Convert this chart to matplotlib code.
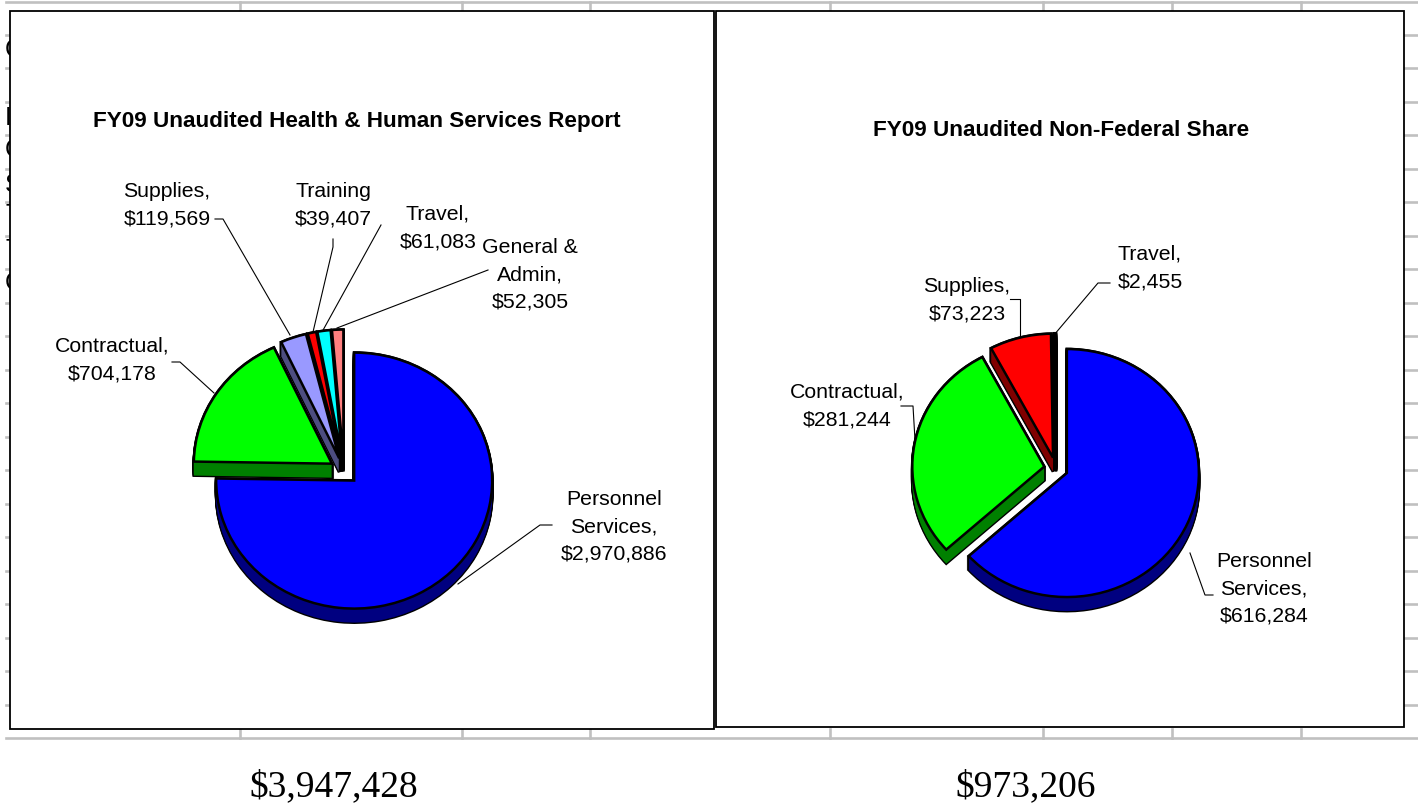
import matplotlib
matplotlib.use('Agg')
import matplotlib.pyplot as plt

# Left chart
hhs_names = ['Personnel\nServices,', 'Contractual,', 'Supplies,', 'Training', 'Travel,', 'General &\nAdmin,']
hhs_values = [2970886, 704178, 119569, 39407, 61083, 52305]
hhs_total = '$3,947,428'
hhs_title = 'FY09 Unaudited Health & Human Services Report'

# Right chart
nfs_names = ['Personnel\nServices,', 'Contractual,', 'Supplies,', 'Travel,']
nfs_values = [616284, 281244, 73223, 2455]
nfs_total = '$973,206'
nfs_title = 'FY09 Unaudited Non-Federal Share'

# Letters of the worksheet showing at the left of the chart
sheet_letters = ['C', 'I', 'C', 'S', 'T', 'T', 'C']

W, H = 1418, 808
GRAY = '#C0C0C0'

hhs_top = ['#0000FF', '#00FF00', '#9999FF', '#FF0000', '#00FFFF', '#FF8080']
hhs_side = ['#000080', '#008000', '#4D4D80', 'black', 'black', 'black']
nfs_top = ['#0000FF', '#00FF00', '#FF0000', 'black']
nfs_side = ['#000080', '#008000', '#800000', 'black']

# text centres in pixels
hhs_label_pos = [(614, 527), (112, 360), (167, 205), (333, 205), (438, 228), (530, 275)]
nfs_label_pos = [(1264, 589), (847, 406), (967, 300), (1150, 268)]

hhs_leaders = [
    [(552, 525), (540, 525), (458, 584)],
    [(172, 362), (180, 362), (214, 393)],
    [(215, 219), (223, 219), (290, 335)],
    [(333, 239), (333, 247), (313, 332)],
    [(381, 225), (322, 332)],
    [(488, 270), (337, 328)],
]
nfs_leaders = [
    [(1213, 595), (1205, 595), (1190, 553)],
    [(901, 406), (913, 406), (915, 440)],
    [(1010, 299), (1020, 299), (1020, 338)],
    [(1110, 283), (1098, 283), (1054, 335)],
]


def label_text(name, value):
    return f'{name}\n${value:,}'


def draw_pie(fig, cx, cy, rx, ry, values, top, side, explode, depth):
    ax = fig.add_axes([(cx - 2 * rx) / W, 1 - (cy + 2 * ry) / H, 4 * rx / W, 4 * ry / H], zorder=2)
    ax.patch.set_visible(False)
    kw = dict(explode=[explode] * len(values), startangle=90, counterclock=False, frame=True)
    # black outline of the whole solid first, then the sides, then the top
    for k in range(depth, -1, -1):
        ax.pie(values, center=(0, -k / ry), colors=['black'] * len(values),
               wedgeprops=dict(edgecolor='black', linewidth=2.0), **kw)
    for k in range(depth, 0, -1):
        ax.pie(values, center=(0, -k / ry), colors=side,
               wedgeprops=dict(edgecolor='none', linewidth=0), **kw)
    ax.pie(values, center=(0, 0), colors=top,
           wedgeprops=dict(edgecolor='black', linewidth=1.8), **kw)
    ax.set_aspect('auto')
    ax.set_xlim(-2, 2)
    ax.set_ylim(-2, 2)
    ax.set_xticks([])
    ax.set_yticks([])
    ax.axis('off')


def draw_labels(ax, names, values, positions, leaders):
    for name, value, (x, y), leader in zip(names, values, positions, leaders):
        ax.text(x, y, label_text(name, value), ha='center', va='center', fontsize=15.3,
                family='Liberation Sans', linespacing=1.55, color='black', zorder=4)
        ax.plot([p[0] for p in leader], [p[1] for p in leader], color='black', lw=0.8, zorder=3)


fig = plt.figure(figsize=(W / 100, H / 100), dpi=100)
bg = fig.add_axes([0, 0, 1, 1], zorder=1)
bg.set_xlim(0, W)
bg.set_ylim(H, 0)
bg.axis('off')

# worksheet behind the charts
bg.plot([6, W], [2, 2], color=GRAY, lw=1.9)
bg.plot([6, W], [738, 738], color=GRAY, lw=1.9)
for x in [240, 462, 590, 830, 1043, 1172, 1301]:
    bg.plot([x, x], [2, 11], color=GRAY, lw=1.9)
    bg.plot([x, x], [729, 738], color=GRAY, lw=1.9)
for i in range(1, 22):
    y = 1 + i * 33.5
    bg.plot([6, 10], [y, y], color=GRAY, lw=1.9)
    bg.plot([1404, W], [y, y], color=GRAY, lw=1.9)
for letter, y in zip(sheet_letters, [50, 118, 150, 185, 215, 250, 283]):
    bg.text(5, y, letter, fontsize=18, family='Liberation Sans', ha='left', va='center', zorder=1)

# chart frames
bg.add_patch(plt.Rectangle((10, 11), 704, 718, facecolor='white', edgecolor='black', lw=1.3, zorder=2))
bg.add_patch(plt.Rectangle((716, 11), 688, 716, facecolor='white', edgecolor='black', lw=1.3, zorder=2))

bg.text(357, 122, hhs_title, fontsize=16.2, fontweight='bold', family='Liberation Sans',
        ha='center', va='center', zorder=4)
bg.text(1061, 131, nfs_title, fontsize=16.2, fontweight='bold', family='Liberation Sans',
        ha='center', va='center', zorder=4)

draw_labels(bg, hhs_names, hhs_values, hhs_label_pos, hhs_leaders)
draw_labels(bg, nfs_names, nfs_values, nfs_label_pos, nfs_leaders)

draw_pie(fig, 344, 471, 138, 128, hhs_values, hhs_top, hhs_side, 0.105, 14)
draw_pie(fig, 1056, 468.5, 132, 124, nfs_values, nfs_top, nfs_side, 0.09, 14)

bg.text(334, 787, hhs_total, fontsize=27, family='Liberation Serif', ha='center', va='center')
bg.text(1026, 787, nfs_total, fontsize=27, family='Liberation Serif', ha='center', va='center')

fig.savefig('out.png', dpi=100, facecolor='white')
